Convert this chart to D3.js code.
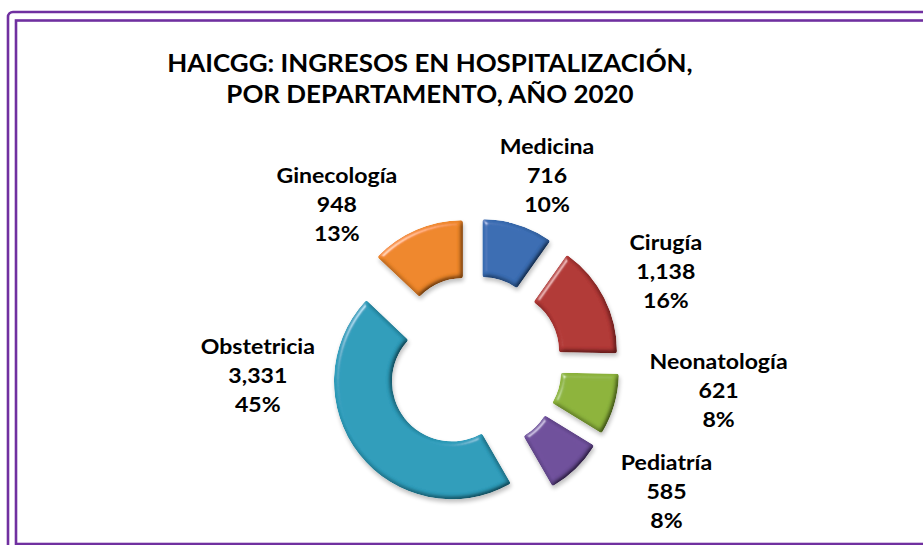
<!DOCTYPE html>
<html>
<head>
<meta charset="utf-8">
<script src="https://cdn.jsdelivr.net/npm/d3@7"></script>
<style>
  html, body { margin: 0; padding: 0; background: #fff; }
  #chart { width: 923px; height: 545px; }
</style>
</head>
<body>
<div id="chart"></div>
<script>
// ---- data ----
const categories = ['Medicina', 'Cirugía', 'Neonatología', 'Pediatría', 'Obstetricia', 'Ginecología']
const values = [716, 1138, 621, 585, 3331, 948]
const titleLines = ['HAICGG: INGRESOS EN HOSPITALIZACIÓN,', 'POR DEPARTAMENTO, AÑO 2020']

// ---- look ----
const colors = ['#3a6db3', '#b23836', '#8db43c', '#6f509c', '#2e9dbb', '#ef872a']
// label blocks were dragged by hand in the original, so keep their polar spot per slice
const labelSpot = {
  'Medicina':     { angle: 22,  radius: 195 },
  'Cirugía':      { angle: 66,  radius: 210 },
  'Neonatología': { angle: 98,  radius: 247 },
  'Pediatría':    { angle: 125, radius: 235 },
  'Obstetricia':  { angle: 265, radius: 217 },
  'Ginecología':  { angle: 318, radius: 205 },
}

const W = 923, H = 545
const cx = 474, cy = 364
const outerR = 118, innerR = 60, explode = 28
const font = 'Lato, "Open Sans", sans-serif'
const stretch = 1.1   // the original text is a bit wider than Lato

const items = categories.map((c, i) => ({ name: c, value: values[i], color: colors[i] }))
const total = d3.sum(values)
const fmtNum = d3.format(',')
const fmtPct = d3.format('.0%')

const svg = d3.select('#chart').append('svg')
  .attr('width', W).attr('height', H)
  .attr('viewBox', `0 0 ${W} ${H}`)

// ---- filters: soft bevel + faint shadow ----
const defs = svg.append('defs')
const f = defs.append('filter').attr('id', 'bevel')
  .attr('x', '-20%').attr('y', '-20%').attr('width', '140%').attr('height', '140%')
f.append('feGaussianBlur').attr('in', 'SourceAlpha').attr('stdDeviation', 2.4).attr('result', 'blur')
f.append('feDiffuseLighting').attr('in', 'blur').attr('surfaceScale', 4)
  .attr('diffuseConstant', 1.15).attr('lighting-color', '#fff').attr('result', 'diff')
  .append('feDistantLight').attr('azimuth', 225).attr('elevation', 60)
f.append('feSpecularLighting').attr('in', 'blur').attr('surfaceScale', 4)
  .attr('specularConstant', 0.7).attr('specularExponent', 35)
  .attr('lighting-color', '#fff').attr('result', 'spec')
  .append('feDistantLight').attr('azimuth', 225).attr('elevation', 28)
f.append('feComposite').attr('in', 'SourceGraphic').attr('in2', 'diff')
  .attr('operator', 'arithmetic').attr('k1', 1).attr('k2', 0).attr('k3', 0).attr('k4', 0)
  .attr('result', 'lit')
f.append('feComposite').attr('in', 'spec').attr('in2', 'SourceAlpha')
  .attr('operator', 'in').attr('result', 'specIn')
f.append('feComposite').attr('in', 'lit').attr('in2', 'specIn')
  .attr('operator', 'arithmetic').attr('k1', 0).attr('k2', 1).attr('k3', 0.6).attr('k4', 0)
  .attr('result', 'shaded')
f.append('feComposite').attr('in', 'shaded').attr('in2', 'SourceAlpha').attr('operator', 'in')
  .attr('result', 'body')
f.append('feGaussianBlur').attr('in', 'SourceAlpha').attr('stdDeviation', 2).attr('result', 'sb')
f.append('feOffset').attr('in', 'sb').attr('dx', 1).attr('dy', 3).attr('result', 'so')
f.append('feComponentTransfer').attr('in', 'so').attr('result', 'shadow')
  .append('feFuncA').attr('type', 'linear').attr('slope', 0.25)
const m = f.append('feMerge')
m.append('feMergeNode').attr('in', 'shadow')
m.append('feMergeNode').attr('in', 'body')

// ---- frame ----
svg.append('rect')
  .attr('x', 8).attr('y', 12).attr('width', W + 20).attr('height', H + 20)
  .attr('rx', 5).attr('fill', 'none')
  .attr('stroke', '#7030a0').attr('stroke-width', 2.6)
svg.append('rect')
  .attr('x', 16).attr('y', 20.5).attr('width', W + 20).attr('height', 523.5)
  .attr('fill', 'none')
  .attr('stroke', '#7030a0').attr('stroke-width', 2.6)

// ---- title ----
svg.append('text')
  .attr('transform', `translate(430,72) scale(1.06,1)`)
  .attr('text-anchor', 'middle')
  .attr('font-family', font).attr('font-weight', 700).attr('font-size', '24.5px')
  .attr('fill', '#000')
  .selectAll('tspan')
  .data(titleLines)
  .join('tspan')
  .attr('x', 0)
  .attr('y', (d, i) => i * 31)
  .text(d => d)

// ---- doughnut ----
const pie = d3.pie().sort(null).value(d => d.value)
const arc = d3.arc().innerRadius(innerR).outerRadius(outerR).cornerRadius(2)
const arcs = pie(items)

const g = svg.append('g').attr('transform', `translate(${cx},${cy})`)

g.selectAll('path.slice')
  .data(arcs)
  .join('path')
  .attr('class', 'slice')
  .attr('d', arc)
  .attr('fill', d => d.data.color)
  .attr('filter', 'url(#bevel)')
  .attr('transform', d => {
    const a = (d.startAngle + d.endAngle) / 2
    return `translate(${explode * Math.sin(a)},${-explode * Math.cos(a)})`
  })

// ---- labels ----
g.selectAll('text.lab')
  .data(arcs)
  .join('text')
  .attr('class', 'lab')
  .attr('text-anchor', 'middle')
  .attr('font-family', font).attr('font-weight', 700).attr('font-size', '21px')
  .attr('fill', '#000')
  .each(function (d) {
    const spot = labelSpot[d.data.name]
    const a = spot.angle * Math.PI / 180
    const x = spot.radius * Math.sin(a)
    const y = -spot.radius * Math.cos(a)
    const lines = [d.data.name, fmtNum(d.data.value), fmtPct(d.data.value / total)]
    d3.select(this)
      .attr('transform', `translate(${x},${y}) scale(${stretch},1)`)
      .selectAll('tspan')
      .data(lines)
      .join('tspan')
      .attr('x', 0)
      .attr('y', (t, i) => (i - 1) * 29)
      .text(t => t)
  })
</script>
</body>
</html>
